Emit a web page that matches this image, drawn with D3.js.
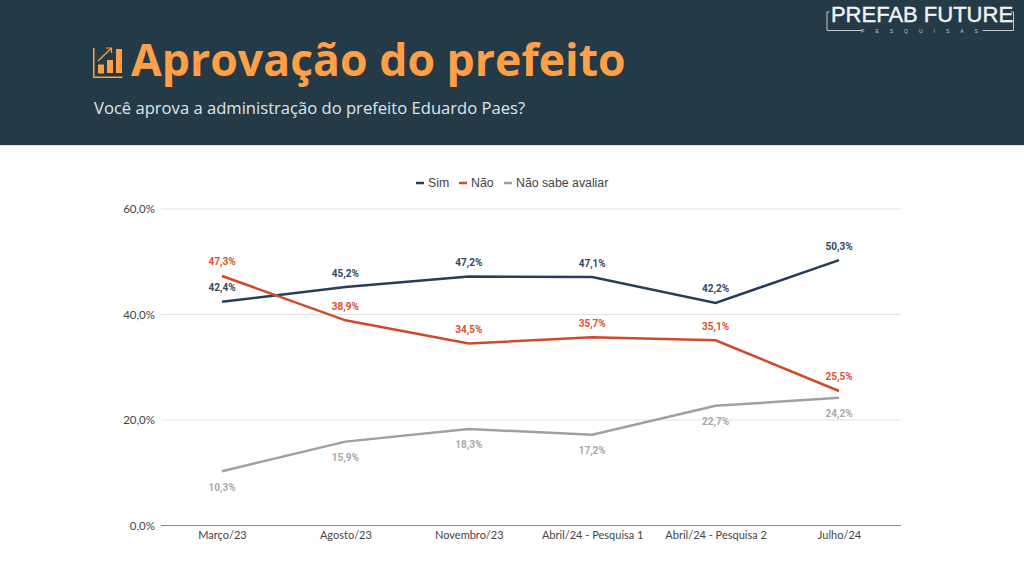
<!DOCTYPE html>
<html><head><meta charset="utf-8">
<script src="https://cdn.jsdelivr.net/npm/d3@7"></script>
<style>html,body{margin:0;padding:0;background:#fff}svg{display:block}</style>
</head><body><svg id="c" width="1024" height="577"></svg>
<script>
const categories=["Março/23","Agosto/23","Novembro/23","Abril/24 - Pesquisa 1","Abril/24 - Pesquisa 2","Julho/24"];
const sim=[42.4,45.2,47.2,47.1,42.2,50.3];
const nao=[47.3,38.9,34.5,35.7,35.1,25.5];
const naoSabe=[10.3,15.9,18.3,17.2,22.7,24.2];
const seriesNames=["Sim","Não","Não sabe avaliar"];
const seriesColors=["#263f57","#d2492a","#a0a0a0"];
const labelColors=["#2f4a60","#d9512f","#a9a9a9"];
const yTicks=[0,20,40,60];
const fmt=v=>v.toFixed(1).replace(".",",")+"%";
const svg=d3.select("#c");
const sans="'Liberation Sans',Arial,sans-serif", title="'Open Sans','Noto Sans',sans-serif", axisFont="Lato,'Open Sans',sans-serif";
// header
svg.append("rect").attr("width",1024).attr("height",145).attr("fill","#243a47");
svg.append("rect").attr("y",145).attr("width",1024).attr("height",1).attr("fill","#dfe6e9");
const orange="#ff9f47";
const icon=svg.append("g").attr("fill",orange);
icon.append("path").attr("d","M93 48h1.500v28.500h28v1.500h-29.500z");
[[98,64.5,6,9],[107,60,6,13],[116,49,6,24]].forEach(r=>icon.append("rect").attr("x",r[0]).attr("y",r[1]).attr("width",r[2]).attr("height",r[3]));
icon.append("path").attr("d","M98 61L111 48.500M106 48h5.500v5").attr("fill","none").attr("stroke",orange).attr("stroke-width",1.200);
svg.append("text").attr("x",131).attr("y",76).attr("font-family",title).attr("font-weight",700).attr("font-size",44.600).attr("fill",orange).text("Aprovação do prefeito");
svg.append("text").attr("x",94).attr("y",114).attr("font-family",title).attr("font-size",16.600).attr("fill","#dfe7ea").text("Você aprova a administração do prefeito Eduardo Paes?");
// logo
svg.append("text").attr("x",922).attr("y",22).attr("text-anchor","middle").attr("font-family",sans).attr("font-size",22).attr("fill","#f2f2f2").attr("stroke","#f2f2f2").attr("stroke-width",0.400).text("PREFAB FUTURE");
svg.append("text").attr("x",925).attr("y",32.500).attr("text-anchor","middle").attr("font-family",sans).attr("font-size",5).attr("letter-spacing",11).attr("fill","#c3c9cc").text("PESQUISAS");
svg.append("path").attr("d","M829.500 12h-2.500v18.500h35M1011 12h2.500v18.500h-31").attr("fill","none").attr("stroke","#c3c9cc").attr("stroke-width",1);
// scales
const x=d3.scalePoint().domain(categories).range([222,839]);
const y=d3.scaleLinear().domain([0,60]).range([525.5,209]);
// grid
svg.append("g").selectAll("line").data(yTicks).join("line")
 .attr("x1",161).attr("x2",901).attr("y1",d=>y(d)).attr("y2",d=>y(d))
 .attr("stroke",d=>d===0?"#8c8c8c":"#e2e2e2").attr("stroke-width",1);
const yAxis=d3.axisLeft(y).tickValues(yTicks).tickSize(0).tickPadding(0).tickFormat(fmt);
const gy=svg.append("g").attr("transform","translate(155,0)").call(yAxis);
gy.select(".domain").remove();
gy.selectAll("text").attr("font-family",axisFont).attr("font-size",11.500).attr("fill","#444");
const xAxis=d3.axisBottom(x).tickSize(0).tickPadding(0);
const gx=svg.append("g").attr("transform","translate(0,531)").call(xAxis);
gx.select(".domain").remove();
gx.selectAll("text").attr("font-family",axisFont).attr("font-size",11).attr("fill","#444");
// series
const data=[sim,nao,naoSabe];
const line=d3.line().x((d,i)=>x(categories[i])).y(d=>y(d));
const offs=[-14,-14,16];
data.forEach((vals,k)=>{
 svg.append("path").datum(vals).attr("d",line).attr("fill","none").attr("stroke",seriesColors[k]).attr("stroke-width",2.500);
 svg.append("g").selectAll("text").data(vals).join("text")
  .attr("x",(d,i)=>x(categories[i])).attr("y",d=>y(d)+offs[k]).attr("dy","0.35em")
  .attr("text-anchor","middle").attr("font-family","Roboto,sans-serif").attr("font-weight",700).attr("font-size",10)
  .attr("fill",labelColors[k]).text(fmt);
});
// legend
const lx=[416,459,504];
seriesNames.forEach((n,k)=>{
 svg.append("line").attr("x1",lx[k]).attr("x2",lx[k]+8).attr("y1",183).attr("y2",183).attr("stroke",seriesColors[k]).attr("stroke-width",2.500);
 svg.append("text").attr("x",lx[k]+12).attr("y",187).attr("font-family",sans).attr("font-size",12.300).attr("fill","#444").text(n);
});
</script></body></html>
